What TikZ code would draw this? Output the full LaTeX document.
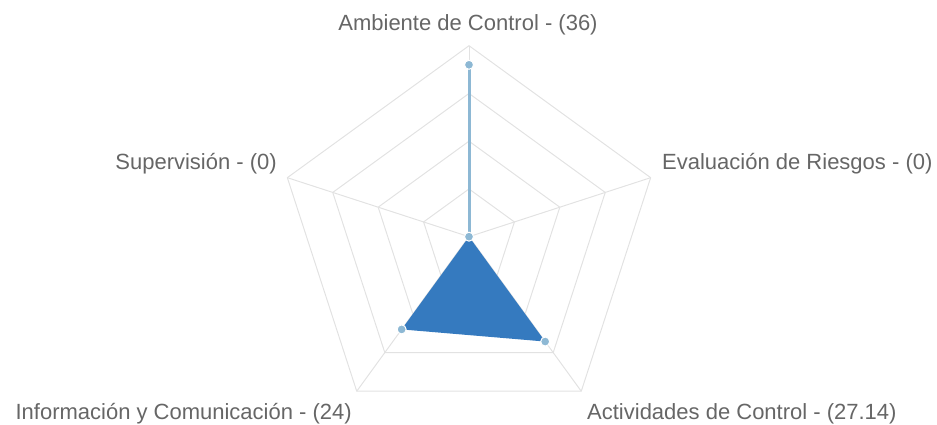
\documentclass[tikz,border=0pt]{standalone}
\usepackage{fontspec}
\setmainfont{Liberation Sans}
\usetikzlibrary{calc}
\definecolor{gridc}{HTML}{E2E2E2}
\definecolor{linec}{HTML}{8DB8D4}
\definecolor{fillc}{HTML}{357ABF}
\definecolor{labc}{HTML}{666666}
\begin{document}
\begin{tikzpicture}[x=1pt,y=1pt,
  lab/.style={inner sep=0pt, text=labc, font=\fontsize{22}{26}\selectfont},
  gridline/.style={draw=gridc, line width=1pt},
  mk/.style={circle, fill=linec, draw=white, line width=1pt, minimum size=9pt, inner sep=0pt}]
\useasboundingbox (0,-425) rectangle (937,0);
\coordinate (c) at (469,-236.7);
\foreach \r in {47.75,95.5,143.25,191}
  \draw[gridline] ($(c)+(90:\r)$) -- ($(c)+(18:\r)$) -- ($(c)+(-54:\r)$) -- ($(c)+(-126:\r)$) -- ($(c)+(162:\r)$) -- cycle;
\foreach \a in {90,18,-54,-126,162}
  \draw[gridline] (c) -- ($(c)+(\a:191)$);
\coordinate (pA) at ($(c)+(90:171.9)$);
\coordinate (pC) at ($(c)+(-54:129.6)$);
\coordinate (pI) at ($(c)+(-126:114.6)$);
\draw[linec, line width=3pt] (c) -- (pA);
\fill[fillc] (c) -- (pC) -- (pI) -- cycle;
\node[mk] (mA) at (pA) {};
\node[mk] (mO) at (c) {};
\node[mk] (mC) at (pC) {};
\node[mk] (mI) at (pI) {};
\node[lab, anchor=base] (lA) at (468,-30.7) {Ambiente de Control - (36)};
\node[lab, anchor=base west] (lE) at (662,-169.5) {Evaluación de Riesgos - (0)};
\node[lab, anchor=base east] (lS) at (277,-169.5) {Supervisión - (0)};
\node[lab, anchor=base east] (lI) at (352,-419) {Información y Comunicación - (24)};
\node[lab, anchor=base west] (lC) at (587,-419) {Actividades de Control - (27.14)};
\end{tikzpicture}
\end{document}
